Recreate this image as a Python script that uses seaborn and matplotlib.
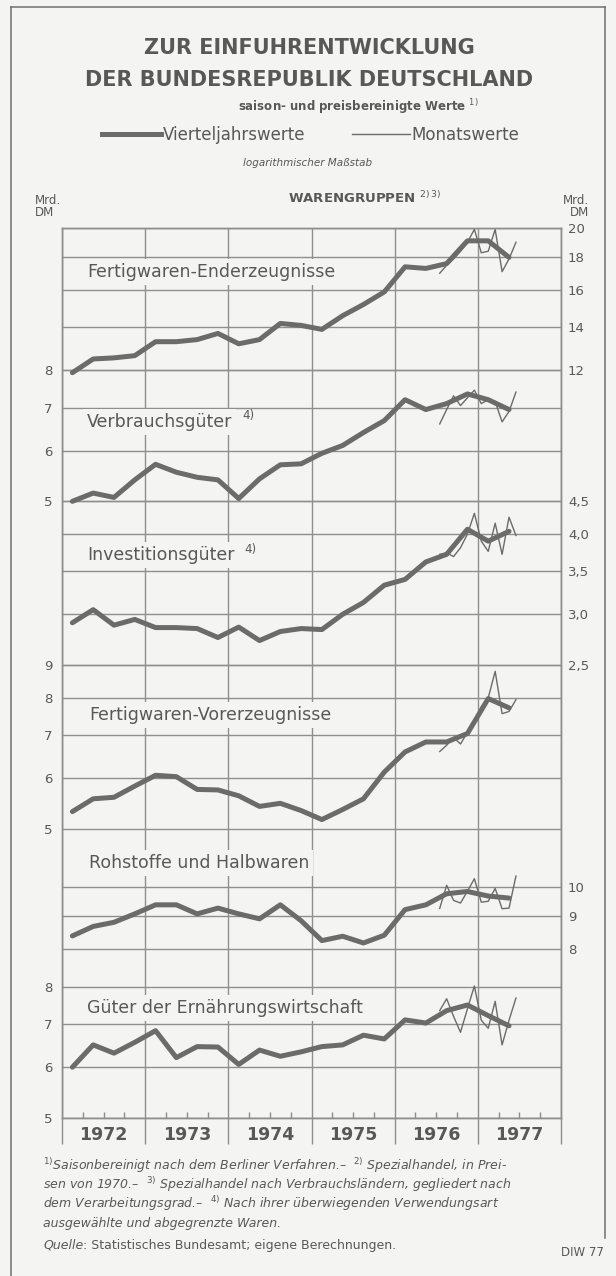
import pandas as pd
import matplotlib
matplotlib.use("Agg")
from matplotlib import pyplot as plt
from matplotlib.ticker import NullLocator
from matplotlib.lines import Line2D
import seaborn as sns

W, H = 616, 1276

# Zeitachse: Vierteljahre 1972/I - 1977/II, Monate Juli 1976 - Juni 1977
quarters = pd.period_range("1972Q1", "1977Q2", freq="Q")
months = pd.period_range("1976-07", "1977-06", freq="M")

groups = ["Fertigwaren-Enderzeugnisse", "Verbrauchsgüter", "Investitionsgüter",
          "Fertigwaren-Vorerzeugnisse", "Rohstoffe und Halbwaren",
          "Güter der Ernährungswirtschaft"]

# Vierteljahrswerte, Mrd. DM
ender_q = [11.9, 12.5, 12.55, 12.65, 13.3, 13.3, 13.4, 13.7, 13.2, 13.4, 14.2,
           14.1, 13.9, 14.6, 15.2, 15.9, 17.4, 17.3, 17.6, 19.1, 19.1, 18.0]
verbr_q = [5.0, 5.15, 5.07, 5.4, 5.71, 5.55, 5.45, 5.4, 5.05, 5.42, 5.7,
           5.72, 5.94, 6.11, 6.4, 6.68, 7.2, 6.95, 7.1, 7.35, 7.2, 6.95]
invest_q = [2.91, 3.05, 2.885, 2.945, 2.86, 2.86, 2.85, 2.76, 2.865, 2.73, 2.82,
            2.85, 2.84, 3.0, 3.13, 3.33, 3.4, 3.62, 3.72, 4.07, 3.9, 4.04]
vorerz_q = [5.32, 5.57, 5.6, 5.83, 6.06, 6.03, 5.76, 5.75, 5.63, 5.42, 5.48,
            5.34, 5.17, 5.36, 5.57, 6.13, 6.59, 6.83, 6.83, 7.04, 7.98, 7.72]
rohst_q = [8.39, 8.68, 8.81, 9.08, 9.38, 9.38, 9.08, 9.27, 9.08, 8.92, 9.38,
           8.86, 8.25, 8.38, 8.18, 8.41, 9.22, 9.38, 9.76, 9.84, 9.68, 9.61]
ernaehr_q = [6.0, 6.5, 6.31, 6.56, 6.84, 6.21, 6.46, 6.45, 6.06, 6.38, 6.24,
             6.34, 6.46, 6.5, 6.73, 6.64, 7.11, 7.03, 7.35, 7.5, 7.22, 6.96]

# Monatswerte, Mrd. DM
ender_m = [17.0, 17.5, 17.9, 18.4, 19.0, 19.9, 18.3, 18.4, 19.9, 17.1, 17.9, 19.0]
verbr_m = [6.6, 6.95, 7.3, 7.05, 7.25, 7.45, 7.1, 7.2, 7.15, 6.65, 6.9, 7.4]
invest_m = [3.72, 3.74, 3.69, 3.81, 4.0, 4.31, 3.9, 3.76, 4.16, 3.72, 4.25, 3.98]
vorerz_m = [6.6, 6.75, 6.94, 6.78, 7.07, 7.3, 7.75, 8.0, 8.8, 7.56, 7.62, 7.95]
rohst_m = [9.26, 10.06, 9.53, 9.44, 9.85, 10.3, 9.47, 9.5, 9.95, 9.25, 9.27, 10.4]
ernaehr_m = [7.35, 7.67, 7.2, 6.8, 7.4, 8.03, 7.1, 6.9, 7.6, 6.5, 7.1, 7.69]

# Skalenwerte je Warengruppe
ender_ticks = [12, 14, 16, 18, 20]
verbr_ticks = [5, 6, 7, 8]
invest_ticks = [2.5, 3.0, 3.5, 4.0, 4.5]
vorerz_ticks = [5, 6, 7, 8, 9]
rohst_ticks = [8, 9, 10]
ernaehr_ticks = [5, 6, 7, 8]
ender_labels = ["12", "14", "16", "18", "20"]
verbr_labels = ["5", "6", "7", "8"]
invest_labels = ["2,5", "3,0", "3,5", "4,0", "4,5"]
vorerz_labels = ["5", "6", "7", "8", "9"]
rohst_labels = ["8", "9", "10"]
ernaehr_labels = ["5", "6", "7", "8"]
years = [1972, 1973, 1974, 1975, 1976, 1977]

# layout: vertical shift of each group on the common log scale (in decades), label side
shift = [0.086, 0.2621, 0.3079, -0.2484, -0.640, -0.699]
side = ["right", "left", "right", "left", "right", "left"]
label_px = [(87, 272), (87, 422), (87, 555), (89, 715), (89, 863), (87, 1008)]
label_sup = ["", "4)", "4)", "", "", ""]

bg = "#f4f4f2"
line_c = "#6b6b6b"
grid_c = "#8e8e8e"
text_c = "#585858"

plt.rcParams["font.family"] = ["DejaVu Sans"]
plt.rcParams["text.color"] = text_c

factor = {g: 10 ** s for g, s in zip(groups, shift)}
q_time = quarters.year + (quarters.quarter - 0.5) / 4
m_time = months.year + (months.month - 0.5) / 12

q_vals = [ender_q, verbr_q, invest_q, vorerz_q, rohst_q, ernaehr_q]
m_vals = [ender_m, verbr_m, invest_m, vorerz_m, rohst_m, ernaehr_m]
df_q = pd.concat([pd.DataFrame({"gruppe": g, "t": q_time, "wert": v})
                  for g, v in zip(groups, q_vals)], ignore_index=True)
df_m = pd.concat([pd.DataFrame({"gruppe": g, "t": m_time, "wert": v})
                  for g, v in zip(groups, m_vals)], ignore_index=True)
df_q["y"] = df_q["wert"] * df_q["gruppe"].map(factor)
df_m["y"] = df_m["wert"] * df_m["gruppe"].map(factor)


def fxy(px, py):
    return px / W, 1 - py / H


fig = plt.figure(figsize=(W / 100, H / 100), dpi=100, facecolor=bg)
ax_l, ax_r, ax_t, ax_b = 62, 561, 228, 1118
ax = fig.add_axes([ax_l / W, 1 - ax_b / H, (ax_r - ax_l) / W, (ax_b - ax_t) / H])
ax.set_facecolor(bg)
ax.set_yscale("log")

sns.lineplot(data=df_m, x="t", y="y", units="gruppe", estimator=None,
             color=line_c, lw=1.0, ax=ax, zorder=3)
sns.lineplot(data=df_q, x="t", y="y", units="gruppe", estimator=None,
             color=line_c, lw=3.6, ax=ax, zorder=4,
             solid_joinstyle="round", solid_capstyle="round")
ax.set_xlabel("")
ax.set_ylabel("")

lo = ernaehr_ticks[0] * factor[groups[5]]
hi = ender_ticks[-1] * factor[groups[0]]
ax.set_xlim(1972, 1978)
ax.set_ylim(lo, hi)

all_ticks = [ender_ticks, verbr_ticks, invest_ticks, vorerz_ticks, rohst_ticks, ernaehr_ticks]
all_labels = [ender_labels, verbr_labels, invest_labels, vorerz_labels, rohst_labels, ernaehr_labels]
left_pos, left_lab, right_pos, right_lab = [], [], [], []
for g, s, tks, lbs in zip(groups, side, all_ticks, all_labels):
    for t, lb in zip(tks, lbs):
        if s == "left":
            left_pos.append(t * factor[g]); left_lab.append(lb)
        else:
            right_pos.append(t * factor[g]); right_lab.append(lb)

ax.set_yticks(left_pos + right_pos, labels=left_lab + [""] * len(right_pos))
ax.yaxis.set_minor_locator(NullLocator())
ax.tick_params(axis="y", length=0, pad=7, labelsize=9.5, labelcolor=text_c)

ax.set_xticks(range(1972, 1979), labels=[""] * 7)
minor_x = [y + q / 4 for y in years for q in (1, 2, 3)]
minor_lab = [str(int(x)) if (x % 1) == 0.5 else "" for x in minor_x]
ax.set_xticks(minor_x, labels=minor_lab, minor=True, fontweight="bold", fontsize=12.5)
ax.tick_params(axis="x", which="major", direction="out", length=19, width=1.0, color=grid_c)
ax.tick_params(axis="x", which="minor", direction="in", length=4, width=1.0, color=grid_c,
               pad=6, labelcolor=text_c)

ax.set_axisbelow(True)
ax.grid(axis="both", which="major", color=grid_c, lw=1.0)
for sp in ax.spines.values():
    sp.set_color(grid_c)
    sp.set_linewidth(1.0)

ax2 = ax.twinx()
ax2.set_yscale("log")
ax2.set_ylim(lo, hi)
ax2.set_yticks(right_pos, labels=right_lab)
ax2.yaxis.set_minor_locator(NullLocator())
ax2.tick_params(axis="y", length=0, pad=5, labelsize=9.5, labelcolor=text_c)
for sp in ax2.spines.values():
    sp.set_color(grid_c)
    sp.set_linewidth(1.0)

# group names inside the plot, footnote marks without box
r = fig.canvas.get_renderer()
for g, (px, py), sup in zip(groups, label_px, label_sup):
    x, y = fxy(px, py)
    t = ax.text(x, y, g, transform=fig.transFigure, fontsize=12.5, color=text_c,
                va="center", ha="left", zorder=5,
                bbox=dict(boxstyle="square,pad=0.22", facecolor=bg, edgecolor="none"))
    if sup:
        x1 = t.get_window_extent(renderer=r).x1
        ax.text((x1 + 10) / W, 1 - (py - 6) / H, sup, transform=fig.transFigure,
                fontsize=8.5, color=text_c, va="center", ha="left", zorder=5)

# titles
fig.text(*fxy(309, 48), "ZUR EINFUHRENTWICKLUNG", ha="center", va="center",
         fontsize=15, fontweight="bold")
fig.text(*fxy(309, 80), "DER BUNDESREPUBLIK DEUTSCHLAND", ha="center", va="center",
         fontsize=15, fontweight="bold")
fig.text(*fxy(358, 107), r"saison- und preisbereinigte Werte ${}^{1)}$", ha="center",
         va="center", fontsize=8.5, fontweight="bold")
fig.text(*fxy(308, 163), "logarithmischer Maßstab", ha="center", va="center",
         fontsize=7.5, style="italic")
fig.text(*fxy(365, 198), r"WARENGRUPPEN ${}^{2)\,3)}$", ha="center", va="center",
         fontsize=9.5, fontweight="bold")
fig.text(*fxy(35, 200), "Mrd.", ha="left", va="center", fontsize=8.5)
fig.text(*fxy(35, 213), "DM", ha="left", va="center", fontsize=8.5)
fig.text(*fxy(589, 200), "Mrd.", ha="right", va="center", fontsize=8.5)
fig.text(*fxy(589, 213), "DM", ha="right", va="center", fontsize=8.5)

# legend
h_q = Line2D([], [], color=line_c, lw=3.6)
h_m = Line2D([], [], color=line_c, lw=1.0)
fig.legend([h_q, h_m], ["Vierteljahrswerte", "Monatswerte"], loc="center",
           bbox_to_anchor=fxy(311, 135), ncol=2, frameon=False, fontsize=12,
           handlelength=3.5, handletextpad=0.1, columnspacing=2.8, labelcolor=text_c)

# footnotes
foot = [r"${}^{1)}$Saisonbereinigt nach dem Berliner Verfahren.–  ${}^{2)}$ Spezialhandel, in Prei-",
        r"sen von 1970.–  ${}^{3)}$ Spezialhandel nach Verbrauchsländern, gegliedert nach",
        r"dem Verarbeitungsgrad.–  ${}^{4)}$ Nach ihrer überwiegenden Verwendungsart",
        "ausgewählte und abgegrenzte Waren."]
for i, line in enumerate(foot):
    fig.text(*fxy(43, 1166 + i * 19), line, ha="left", va="center", fontsize=9,
             style="italic")
q = fig.text(*fxy(43, 1245), "Quelle", ha="left", va="center", fontsize=9, style="italic")
qx = q.get_window_extent(renderer=r).x1
fig.text(qx / W, 1 - 1245 / H, ": Statistisches Bundesamt; eigene Berechnungen.",
         ha="left", va="center", fontsize=9)
fig.text(*fxy(604, 1252), "DIW 77", ha="right", va="center", fontsize=8.5)

# frame of the figure
frame_c = "#707070"
fig.add_artist(Line2D([11 / W, 605 / W], [1 - 7 / H, 1 - 7 / H], color=frame_c, lw=1.1))
fig.add_artist(Line2D([11 / W, 11 / W], [1 - 7 / H, 0], color=frame_c, lw=1.1))
fig.add_artist(Line2D([605 / W, 605 / W], [1 - 7 / H, 1 - 1238 / H], color=frame_c, lw=1.1))

fig.savefig("out.png", dpi=100, facecolor=bg)
